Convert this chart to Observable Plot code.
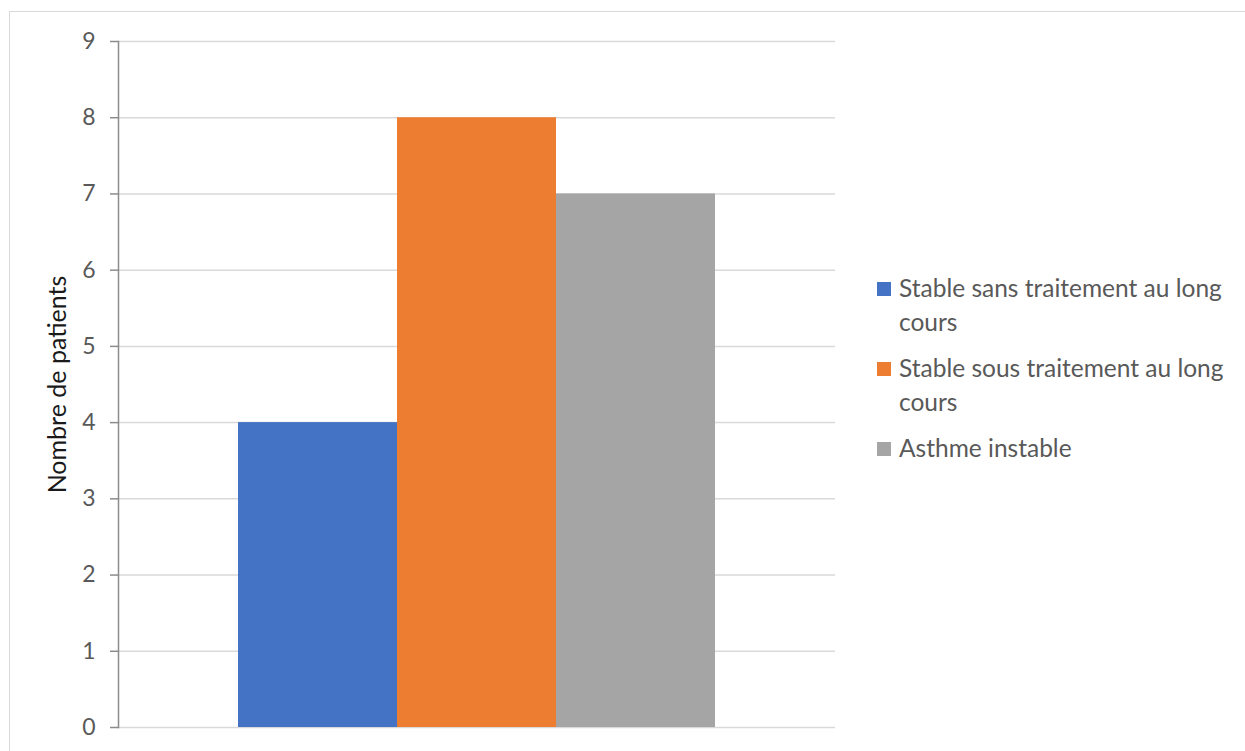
<!DOCTYPE html>
<html>
<head>
<meta charset="utf-8">
<script src="https://cdn.jsdelivr.net/npm/d3@7"></script>
<script src="https://cdn.jsdelivr.net/npm/@observablehq/plot@0.6"></script>
<style>
  html, body { margin: 0; padding: 0; background: #fff; }
  #wrap { position: relative; width: 1245px; height: 751px; overflow: hidden; font-family: Lato, "Open Sans", sans-serif; }
  #border { position: absolute; left: 9px; top: 11px; width: 1400px; height: 900px; border: 1.5px solid #d9d9d9; box-sizing: border-box; }
  #chart { position: absolute; left: 0; top: 0; }
  #legend { position: absolute; left: 877px; top: 271px; width: 350px; color: #595959; font-size: 24.5px; line-height: 34px; }
  .item { display: flex; align-items: flex-start; margin-bottom: 12px; }
  .swatch { flex: none; width: 14px; height: 14px; margin-top: 11px; margin-right: 8px; }
</style>
</head>
<body>
<div id="wrap">
  <div id="border"></div>
  <div id="chart"></div>
  <div id="legend"></div>
</div>
<script>
// Patients by asthma status
const series = [
  "Stable sans traitement au long cours",
  "Stable sous traitement au long cours",
  "Asthme instable"
];
const patients = [4, 8, 7];
const colors = ["#4472C4", "#ED7D31", "#A5A5A5"];
const yTicks = [0, 1, 2, 3, 4, 5, 6, 7, 8, 9];
const yLabel = "Nombre de patients";

const rows = series.map((s, i) => ({ status: s, count: patients[i] }));

const plot = Plot.plot({
  width: 1245,
  height: 751,
  marginLeft: 118,
  marginRight: 410,
  marginTop: 41,
  marginBottom: 24,
  style: { fontFamily: "Lato, 'Open Sans', sans-serif", background: "transparent" },
  x: { domain: series, paddingInner: 0, paddingOuter: 0.75, axis: null },
  y: { domain: [0, 9] },
  color: { domain: series, range: colors },
  marks: [
    Plot.gridY(yTicks, { stroke: "#d9d9d9", strokeOpacity: 1, strokeWidth: 1.5 }),
    Plot.barY(rows, { x: "status", y: "count", fill: "status", inset: 0 }),
    Plot.frame({ anchor: "left", stroke: "#8c8c8c", strokeWidth: 1.5 }),
    Plot.axisY(yTicks, {
      tickSize: 8,
      tickPadding: 15,
      stroke: "#8c8c8c",
      strokeWidth: 1.5,
      color: "#595959",
      fontSize: 23,
      tickFormat: d => String(d),
      label: yLabel,
      labelAnchor: "center",
      labelOffset: 70,
      labelArrow: false
    })
  ]
});
document.getElementById("chart").appendChild(plot);

// Axis title is darker and slightly larger than the tick labels
d3.select(plot).selectAll("text").filter(function () { return this.textContent === yLabel; })
  .attr("fill", "#1a1a1a").attr("font-size", 25);

// Legend
const legend = d3.select("#legend");
series.forEach((s, i) => {
  const item = legend.append("div").attr("class", "item");
  item.append("div").attr("class", "swatch").style("background", colors[i]);
  item.append("div").text(s);
});
</script>
</body>
</html>
